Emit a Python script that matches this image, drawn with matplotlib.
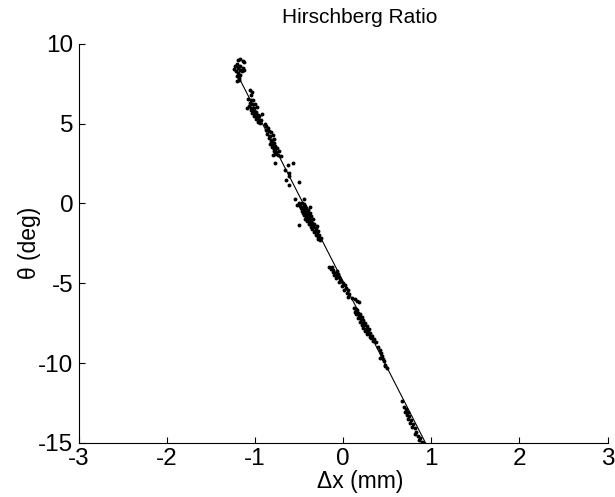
import matplotlib
matplotlib.use("Agg")
import matplotlib.pyplot as plt

plt.rcParams['font.family'] = ['Liberation Sans', 'DejaVu Sans']
plt.rcParams['axes.unicode_minus'] = False

# Hirschberg ratio data: horizontal displacement (mm) vs gaze angle (deg)
dx = [
    # top cluster
    -1.19, -1.165, -1.14, -1.13, -1.23, -1.21, -1.19, -1.17, -1.22, -1.19, -1.15,
    -1.135, -1.20, -1.18, -1.165, -1.21, -1.18, -1.12, -1.20, -1.17, -1.24,
    # ~6 deg
    -1.06, -1.03, -1.04, -1.08, -1.05, -1.02, -1.06, -1.03, -1.00, -1.07, -1.04,
    -1.01, -0.98, -1.05, -1.02, -0.99, -1.03, -1.00, -0.97, -1.01, -0.98, -0.95,
    -0.99, -0.96, -0.93, -0.97, -0.94, -1.09, -0.92,
    # ~4 deg
    -0.89, -0.87, -0.85, -0.88, -0.84, -0.82, -0.86, -0.83, -0.80, -0.84, -0.81,
    -0.78, -0.82, -0.79, -0.83, -0.80, -0.77, -0.81, -0.78, -0.75, -0.79, -0.76,
    -0.73, -0.77, -0.74, -0.71, -0.80,
    -0.77, -0.63, -0.57, -0.65, -0.61, -0.50, -0.61, -0.55, -0.44, -0.50, -0.66, -0.62,
    # ~-1 deg
    -0.50, -0.47, -0.44, -0.49, -0.46, -0.43, -0.48, -0.45, -0.42, -0.40, -0.47,
    -0.44, -0.41, -0.46, -0.43, -0.40, -0.38, -0.45, -0.42, -0.39, -0.36, -0.43,
    -0.40, -0.37, -0.34, -0.41, -0.38, -0.35, -0.39, -0.36, -0.33, -0.37, -0.34,
    -0.31, -0.35, -0.32, -0.29, -0.33, -0.30, -0.27, -0.31, -0.28, -0.25, -0.29,
    -0.26, -0.52, -0.38, -0.30,
    # ~-5 deg
    -0.16, -0.13, -0.14, -0.11, -0.12, -0.09, -0.07, -0.10, -0.07, -0.05, -0.08,
    -0.04, -0.02, -0.05, 0.00, 0.02, -0.01, 0.03, 0.05, 0.01, 0.04, 0.07, 0.05, -0.06,
    0.10, 0.13, 0.16, 0.18,
    # ~-7.5 deg
    0.12, 0.14, 0.16, 0.13, 0.17, 0.19, 0.15, 0.18, 0.21, 0.17, 0.20, 0.23, 0.19,
    0.22, 0.25, 0.21, 0.24, 0.27, 0.23, 0.26, 0.29, 0.25, 0.28, 0.31, 0.27, 0.30,
    0.33, 0.32, 0.35, 0.34, 0.37, 0.30,
    # ~-10 deg
    0.40, 0.42, 0.425, 0.44, 0.42, 0.46, 0.45, 0.48, 0.50, 0.47,
    # ~-14 deg
    0.67, 0.69, 0.71, 0.70, 0.73, 0.72, 0.75, 0.74, 0.77, 0.76, 0.79, 0.78, 0.81,
    0.83, 0.82, 0.85, 0.87, 0.86, 0.89, 0.91,
]
theta = [
    9.0, 9.04, 8.89, 8.83, 8.58, 8.68, 8.48, 8.37, 8.27, 8.16, 8.27,
    8.48, 7.95, 7.85, 8.06, 7.64, 7.70, 8.37, 8.75, 8.60, 8.40,
    7.1, 7.0, 6.8, 6.55, 6.45, 6.5, 6.3, 6.2, 6.25, 6.1, 6.0,
    5.95, 6.05, 5.85, 5.8, 5.75, 5.65, 5.6, 5.55, 5.45, 5.4, 5.5,
    5.3, 5.25, 5.2, 5.1, 5.05, 6.0, 5.6,
    5.0, 4.85, 4.7, 4.6, 4.55, 4.45, 4.35, 4.25, 4.3, 4.1, 4.0,
    4.05, 3.9, 3.8, 3.75, 3.65, 3.6, 3.5, 3.4, 3.45, 3.3, 3.2,
    3.25, 3.1, 3.0, 2.95, 3.0,
    2.56, 2.42, 2.52, 1.48, 1.17, 1.31, 1.7, 0.27, 0.27, -1.34, 2.1, 1.9,
    0.05, 0.0, -0.05, -0.15, -0.2, -0.15, -0.3, -0.35, -0.3, -0.4, -0.45,
    -0.5, -0.55, -0.6, -0.65, -0.7, -0.6, -0.75, -0.8, -0.85, -0.8, -0.95,
    -1.0, -1.05, -1.0, -1.1, -1.15, -1.2, -1.3, -1.35, -1.3, -1.45, -1.5,
    -1.55, -1.6, -1.7, -1.75, -1.8, -1.9, -1.95, -2.0, -2.1, -2.15, -2.25,
    -2.28, -0.1, -0.25, -1.4,
    -3.97, -4.0, -4.1, -4.15, -4.3, -4.35, -4.25, -4.5, -4.55, -4.6, -4.7,
    -4.75, -4.85, -4.9, -5.0, -5.1, -5.2, -5.3, -5.4, -5.45, -5.6, -5.7, -5.85, -4.4,
    -5.9, -6.0, -6.1, -6.2,
    -6.55, -6.6, -6.7, -6.8, -6.85, -6.9, -6.95, -7.05, -7.1, -7.2, -7.25, -7.3, -7.4,
    -7.45, -7.5, -7.6, -7.65, -7.7, -7.8, -7.85, -7.9, -8.0, -8.05, -8.1, -8.2, -8.25,
    -8.3, -8.45, -8.5, -8.65, -8.7, -8.4,
    -8.97, -9.2, -9.38, -9.59, -9.7, -9.9, -9.75, -10.1, -10.3, -10.2,
    -12.4, -12.75, -12.9, -13.05, -13.1, -13.25, -13.35, -13.5, -13.6, -13.75, -13.85,
    -14.0, -14.1, -14.3, -14.45, -14.55, -14.7, -14.85, -14.95, -15.0,
]

# fitted line endpoints
fit_dx = [-1.18, 0.98]
fit_theta = [7.85, -15.5]

fig = plt.figure(figsize=(6.15, 4.97), dpi=100)
ax = fig.add_axes([0.128, 0.109, 0.860, 0.803])

ax.plot(fit_dx, fit_theta, "-", color="black", linewidth=0.8)
ax.plot(dx, theta, "o", color="black", markersize=2.8, markeredgewidth=0)

ax.set_xlim(-3, 3)
ax.set_ylim(-15, 10)
ax.set_xticks([-3, -2, -1, 0, 1, 2, 3])
ax.set_yticks([-15, -10, -5, 0, 5, 10])

ax.spines["top"].set_visible(False)
ax.spines["right"].set_visible(False)
for s in ["left", "bottom"]:
    ax.spines[s].set_linewidth(0.8)

ax.tick_params(direction="in", length=4, width=0.8, labelsize=17.5)
ax.tick_params(axis="x", pad=4)
ax.tick_params(axis="y", pad=4)

ax.set_title("Hirschberg Ratio", fontsize=15, pad=15, x=0.532)
ax.set_xlabel("\u0394x (mm)", fontsize=16.5, labelpad=0, x=0.532)
ax.set_ylabel("\u03b8 (deg)", fontsize=16.5, labelpad=-2)

plt.savefig("out.png", dpi=100)
